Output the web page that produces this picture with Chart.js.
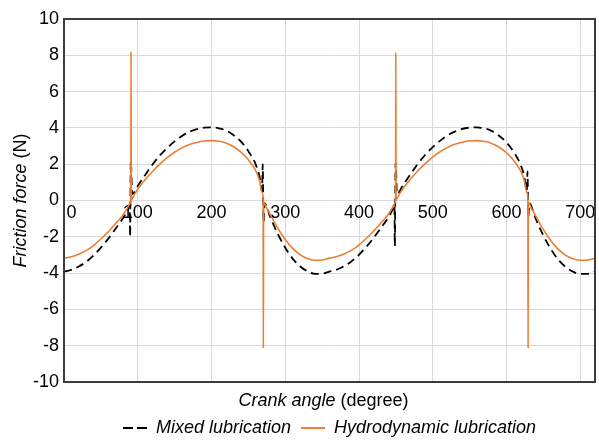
<!DOCTYPE html>
<html><head><meta charset="utf-8">
<script src="https://cdn.jsdelivr.net/npm/chart.js@4.4.1/dist/chart.umd.min.js"></script>
<style>html,body{margin:0;padding:0;background:#fff}#wrap{width:599px;height:440px}</style>
</head><body><div id="wrap"><canvas id="c" width="599" height="440"></canvas></div>
<script>
const xTickValues = [0,100,200,300,400,500,600,700];
const yTickValues = [-10,-8,-6,-4,-2,0,2,4,6,8,10];
const seriesNames = ['Mixed lubrication','Hydrodynamic lubrication'];
const xTitleParts = ['Crank angle',' (degree)'];
const yTitleParts = ['Friction force',' (N)'];

const mixedAngles = [0,10,20,30,40,50,60,70,80,86,89,89.6,90.6,92.5,100,110,120,130,140,150,160,170,180,190,200,210,220,230,240,250,260,265,268.5,269.5,270.5,272,280,290,300,310,320,330,340,350,
 359,369,379,389,399,409,419,429,439,445,448,448.6,449.6,451.5,459,469,479,489,499,509,519,529,539,549,559,569,579,589,599,609,619,624,627.5,628.5,629.5,631,639,649,659,669,679,689,699,709,720];
const mixedValues = [-3.92,-3.82,-3.64,-3.38,-3.03,-2.6,-2.1,-1.55,-0.98,-0.55,-0.25,-2.0,2.2,0.35,0.8,1.4,1.98,2.48,2.9,3.26,3.56,3.78,3.93,4.01,4.03,3.98,3.85,3.6,3.24,2.72,1.98,1.35,0.55,2.0,-1.2,-0.15,-0.95,-1.85,-2.6,-3.2,-3.62,-3.9,-4.04,-4.04,
 -3.93,-3.82,-3.64,-3.38,-3.03,-2.6,-2.1,-1.55,-0.98,-0.55,-0.25,-2.5,2.1,0.35,0.8,1.4,1.98,2.48,2.9,3.26,3.56,3.78,3.93,4.01,4.03,3.98,3.85,3.6,3.24,2.72,1.98,1.35,0.55,1.6,-0.9,-0.15,-0.95,-1.85,-2.6,-3.2,-3.62,-3.9,-4.04,-4.04,-3.92];

const hydroAngles = [0,10,20,30,40,50,60,70,80,86,89,90.6,90.9,91.2,95,100,110,120,130,140,150,160,170,180,190,200,210,220,230,240,250,260,265,268.5,270,270.3,270.6,275,280,290,300,310,320,330,340,350,
 359,369,379,389,399,409,419,429,439,445,448,449.6,449.9,450.2,454,459,469,479,489,499,509,519,529,539,549,559,569,579,589,599,609,619,624,627.5,629,629.3,629.6,634,639,649,659,669,679,689,699,709,720];
const hydroValues = [-3.18,-3.1,-2.96,-2.76,-2.48,-2.12,-1.72,-1.27,-0.8,-0.42,-0.2,0,8.2,0.05,0.3,0.62,1.14,1.6,2.0,2.36,2.66,2.9,3.08,3.2,3.28,3.3,3.26,3.16,2.96,2.66,2.24,1.64,1.12,0.45,0.1,-8.15,-0.1,-0.45,-0.8,-1.54,-2.15,-2.64,-2.98,-3.2,-3.29,-3.28,
 -3.19,-3.1,-2.96,-2.76,-2.48,-2.12,-1.72,-1.27,-0.8,-0.42,-0.2,0,8.15,0.05,0.3,0.62,1.14,1.6,2.0,2.36,2.66,2.9,3.08,3.2,3.28,3.3,3.26,3.16,2.96,2.66,2.24,1.64,1.12,0.45,0.1,-8.15,-0.1,-0.45,-0.8,-1.54,-2.15,-2.64,-2.98,-3.2,-3.29,-3.28,-3.18];

const FONT = "'Liberation Sans', Arial, sans-serif";
const MIXED_COLOR = '#000000';
const HYDRO_COLOR = '#ED7D31';
const toPts = (xs, ys) => xs.map((x, i) => ({x, y: ys[i]}));

function makeIcon(color, dash, width) {
  const c = document.createElement('canvas');
  c.width = 24; c.height = 4;
  const g = c.getContext('2d');
  g.strokeStyle = color; g.lineWidth = width; g.setLineDash(dash);
  g.beginPath(); g.moveTo(0, 2); g.lineTo(24, 2); g.stroke();
  return c;
}
const legendIcons = [makeIcon(MIXED_COLOR, [10, 4], 2), makeIcon(HYDRO_COLOR, [], 2)];

function drawMixed(ctx, parts, cx, cy, rot) {
  ctx.save();
  ctx.translate(cx, cy);
  if (rot) ctx.rotate(rot);
  ctx.textBaseline = 'middle';
  ctx.textAlign = 'left';
  ctx.fillStyle = '#000';
  const fonts = ['italic 18px ' + FONT, '18px ' + FONT];
  let total = 0;
  const w = parts.map((p, i) => { ctx.font = fonts[i]; const m = ctx.measureText(p).width; total += m; return m; });
  let x = -total / 2;
  parts.forEach((p, i) => { ctx.font = fonts[i]; ctx.fillText(p, x, 0); x += w[i]; });
  ctx.restore();
}

const decor = {
  id: 'decor',
  afterDatasetsDraw(chart) {
    const {ctx, chartArea: a} = chart;
    ctx.save();
    ctx.strokeStyle = '#3c3c3c';
    ctx.lineWidth = 2;
    ctx.strokeRect(a.left, a.top, a.right - a.left, a.bottom - a.top);
    ctx.restore();
  },
  afterDraw(chart) {
    const {ctx, chartArea: a} = chart;
    drawMixed(ctx, xTitleParts, (a.left + a.right) / 2 - 6, 401, 0);
    drawMixed(ctx, yTitleParts, 21, (a.top + a.bottom) / 2, -Math.PI / 2);
  }
};

const keepTicks = (vals) => (scale) => { scale.ticks = vals.map(v => ({value: v})); };

new Chart(document.getElementById('c'), {
  type: 'line',
  data: {
    datasets: [
      {label: seriesNames[0], data: toPts(mixedAngles, mixedValues), borderColor: MIXED_COLOR, backgroundColor: MIXED_COLOR,
       borderWidth: 1.8, borderDash: [8,5], pointRadius: 0, cubicInterpolationMode: 'monotone', xAxisID: 'x', yAxisID: 'y', order: 2},
      {label: seriesNames[1], data: toPts(hydroAngles, hydroValues), borderColor: HYDRO_COLOR, backgroundColor: HYDRO_COLOR,
       borderWidth: 1.6, pointRadius: 0, cubicInterpolationMode: 'monotone', xAxisID: 'x', yAxisID: 'y', order: 1}
    ]
  },
  options: {
    responsive: false,
    animation: false,
    devicePixelRatio: 1,
    layout: {padding: {left: 0, right: 4, top: 19, bottom: -7}},
    plugins: {
      tooltip: {enabled: false},
      legend: {
        position: 'bottom', fullSize: false,
        labels: {
          usePointStyle: true, pointStyleWidth: 24, padding: 10,
          color: '#000', font: {family: FONT, size: 18, style: 'italic'},
          generateLabels: (chart) => {
            const items = Chart.defaults.plugins.legend.labels.generateLabels(chart);
            items.forEach(it => { it.pointStyle = legendIcons[it.datasetIndex]; });
            return items;
          },
          sort: (a, b) => a.datasetIndex - b.datasetIndex
        }
      }
    },
    scales: {
      x: {
        type: 'linear', min: 0, max: 720, position: 'bottom',
        afterBuildTicks: keepTicks(xTickValues),
        afterFit: (s) => { s.height = 27; },
        ticks: {display: false},
        grid: {color: '#d9d9d9', lineWidth: 1, drawTicks: false},
        border: {display: false}
      },
      x2: {
        type: 'linear', min: 0, max: 720, position: {y: 0},
        afterBuildTicks: keepTicks(xTickValues),
        ticks: {color: '#000', font: {family: FONT, size: 18}, padding: 2, maxRotation: 0, autoSkip: false,
          callback: (v) => v === 0 ? '   0' : String(v)},
        grid: {display: false, drawTicks: false},
        border: {display: false}
      },
      y: {
        type: 'linear', min: -10, max: 10, position: 'left',
        afterBuildTicks: keepTicks(yTickValues),
        afterFit: (s) => { s.width = 64; },
        ticks: {color: '#000', font: {family: FONT, size: 18}, padding: 5},
        grid: {color: '#d9d9d9', lineWidth: 1, drawTicks: false},
        border: {display: false}
      }
    }
  },
  plugins: [decor]
});
</script>
</body></html>
